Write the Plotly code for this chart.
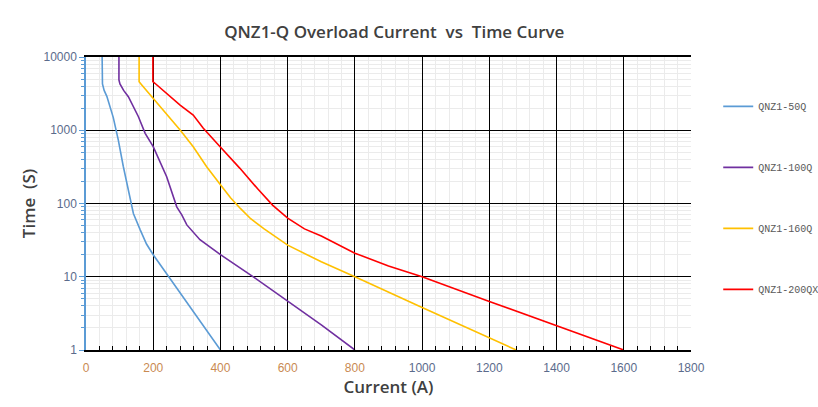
import plotly.graph_objects as go

# ---- data ----
names = ["QNZ1-50Q", "QNZ1-100Q", "QNZ1-160Q", "QNZ1-200QX"]
colors = ["#5B9BD5", "#7030A0", "#FFC000", "#FF0000"]

x_50 = [48, 48, 49, 54, 62, 81, 96, 111, 126, 141, 161, 180, 200, 250, 300, 350, 400]
t_50 = [10000, 4600, 4300, 3500, 2900, 1500, 740, 320, 150, 73, 44, 28, 20, 9.5, 4.5, 2.1, 1]

x_100 = [98, 98, 101, 112, 126, 156, 176, 200, 240, 270, 285, 300, 339, 400, 500, 600, 700, 800]
t_100 = [10000, 4850, 4300, 3500, 2870, 1530, 908, 596, 232, 90, 70, 51, 32, 20, 9.8, 4.7, 2.2, 1]

x_160 = [158, 158, 166, 200, 240, 260, 280, 319, 359, 400, 430, 460, 490, 530, 600, 700, 800, 1000, 1200, 1280]
t_160 = [10000, 4600, 4150, 2730, 1700, 1310, 1007, 596, 318, 180, 120, 85, 62, 45, 27, 16, 10, 3.8, 1.45, 1]

x_200 = [199, 199, 205, 240, 280, 319, 349, 399, 458, 510, 555, 600, 650, 700, 800, 900, 1000, 1200, 1400, 1600]
t_200 = [10000, 4600, 4380, 3190, 2210, 1615, 1064, 596, 302, 160, 95, 63, 45, 36, 21, 14, 10, 4.6, 2.15, 1]

series_x = [x_50, x_100, x_160, x_200]
series_t = [t_50, t_100, t_160, t_200]

x_tickvals = [0, 200, 400, 600, 800, 1000, 1200, 1400, 1600, 1800]
y_tickvals = [1, 10, 100, 1000, 10000]

title_text = "QNZ1-Q Overload Current  vs  Time Curve"
x_title = "Current (A)"
y_title = "Time  (S)"

# ---- figure ----
fig = go.Figure()
for i, (nm, col, xs, ts) in enumerate(zip(names, colors, series_x, series_t)):
    fig.add_trace(go.Scatter(
        x=xs, y=ts, mode="lines", name=nm, legendgroup=nm,
        line=dict(color=col, width=1.6), showlegend=True,
    ))

orange = "#C98A52"
slate = "#5B6B8C"
x_ticktext = [
    f'<span style="color:{orange if v <= 800 else slate}">{v}</span>' for v in x_tickvals
]

title_font = dict(family="Open Sans", size=17, color="#404040", weight=600)

fig.update_layout(
    width=818, height=407,
    margin=dict(l=86, r=127, t=57, b=57, autoexpand=False),
    paper_bgcolor="white", plot_bgcolor="white",
    title=dict(text=title_text, x=0.482, xanchor="center", y=0.922, yanchor="middle",
               font=title_font),
    showlegend=True,
    legend=dict(x=1.045, xanchor="left", y=0.881, yanchor="top",
                font=dict(family="Liberation Mono", size=10, color="#595959"),
                tracegroupgap=42, bgcolor="rgba(0,0,0,0)", itemwidth=30),
    xaxis=dict(
        range=[0, 1800], tickmode="array", tickvals=x_tickvals, ticktext=x_ticktext,
        showgrid=True, gridcolor="#000000", gridwidth=1.3,
        showline=True, linecolor="#000000", linewidth=1.5, mirror=True,
        ticks="inside", ticklen=5, tickcolor="#000000",
        minor=dict(dtick=40, showgrid=True, gridcolor="#EBEBEB", gridwidth=1,
                   ticks="inside", ticklen=4, tickcolor="#000000"),
        zeroline=False, ticklabelstandoff=6,
        tickfont=dict(family="Liberation Sans", size=12, color=slate),
        title=dict(text=x_title, font=title_font, standoff=3),
    ),
    yaxis=dict(
        type="log", range=[0, 4], tickmode="array", tickvals=y_tickvals,
        ticktext=[str(v) for v in y_tickvals],
        showgrid=True, gridcolor="#000000", gridwidth=1.3,
        showline=True, linecolor="#5B9BD5", linewidth=1.5,
        ticks="outside", ticklen=5, tickcolor="#5B9BD5",
        minor=dict(dtick="D1", showgrid=True, gridcolor="#EBEBEB", gridwidth=1,
                   ticks="outside", ticklen=3, tickcolor="#5B9BD5"),
        zeroline=False,
        tickfont=dict(family="Liberation Sans", size=12, color=slate),
        title=dict(text=y_title, font=title_font, standoff=4),
    ),
)

fig.write_html("out.html")
